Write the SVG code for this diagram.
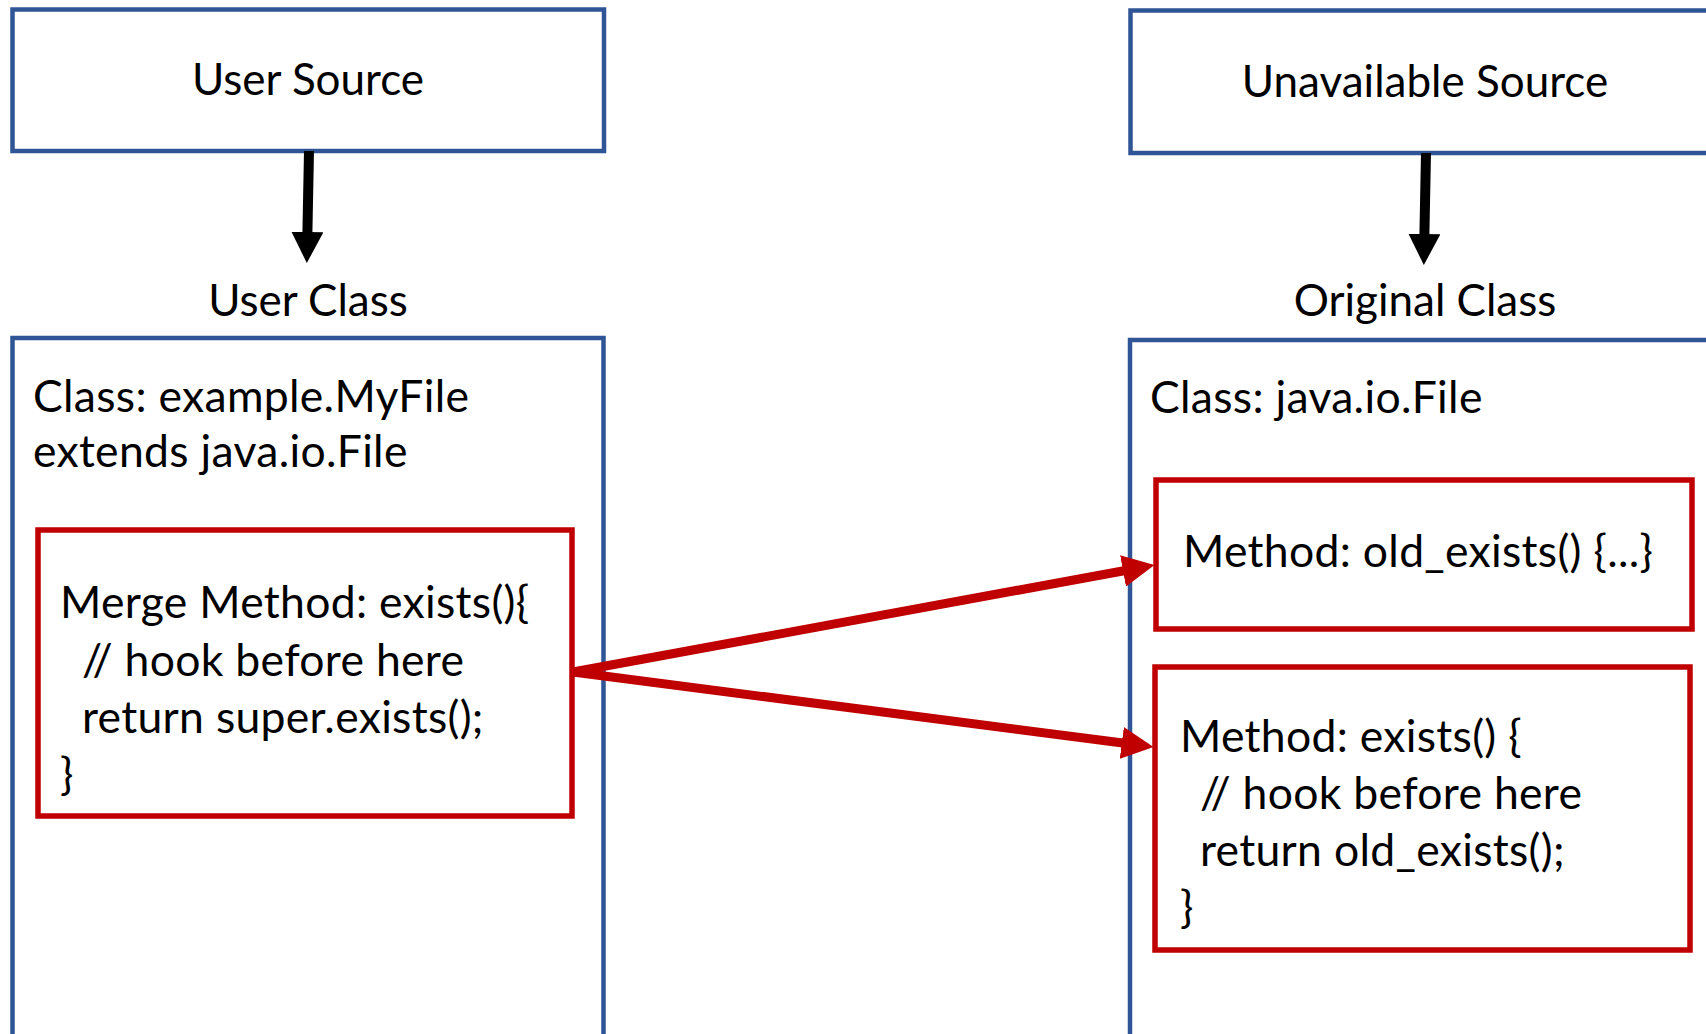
<svg xmlns="http://www.w3.org/2000/svg" width="1706" height="1034" viewBox="0 0 1706 1034">
  <style>
    .blue { fill: #ffffff; stroke: #2F5597; stroke-width: 4.5; }
    .red { fill: #ffffff; stroke: #C00000; stroke-width: 5.5; }
    text { font-family: "Lato", "Open Sans", "Liberation Sans", sans-serif; font-size: 44px; fill: #000000; }
    .body { font-size: 44.5px; letter-spacing: 0.3px; }
    .mid { text-anchor: middle; }
    .flow { fill: none; stroke: #000000; stroke-width: 10; }
    .link { fill: none; stroke: #C00000; stroke-width: 9; }
  </style>
  <defs>
    <marker id="headBlack" markerUnits="userSpaceOnUse" viewBox="0 0 31 32" refX="1" refY="16" markerWidth="31" markerHeight="32" orient="auto">
      <path d="M0,0 L31,16 L0,32 Z" fill="#000000"/>
    </marker>
    <marker id="headRed" markerUnits="userSpaceOnUse" viewBox="0 0 32 32" refX="1" refY="16" markerWidth="32" markerHeight="32" orient="auto">
      <path d="M0,0 L32,16 L0,32 Z" fill="#C00000"/>
    </marker>
  </defs>
  <rect width="1706" height="1034" fill="#ffffff"/>

  <!-- left column -->
  <g id="user-source">
    <rect class="blue" x="12.5" y="9.5" width="591.5" height="141.5"/>
    <text class="mid" x="308" y="95">User Source</text>
  </g>

  <g id="user-class">
    <text class="mid" x="308" y="316">User Class</text>
    <rect class="blue" x="12.5" y="338" width="591" height="720"/>
    <text class="body" x="33" y="412">Class: example.MyFile</text>
    <text class="body" x="33" y="467">extends java.io.File</text>
  </g>

  <g id="merge-method">
    <rect class="red" x="38" y="530" width="534" height="286"/>
    <text class="body" x="60" y="618">Merge Method: exists(){</text>
    <text class="body" x="82" y="676">// hook before here</text>
    <text class="body" x="82" y="733">return super.exists();</text>
    <text class="body" x="60" y="790">}</text>
  </g>

  <!-- right column -->
  <g id="unavailable-source">
    <rect class="blue" x="1130.5" y="10.5" width="600" height="142.5"/>
    <text class="mid" x="1425" y="97">Unavailable Source</text>
  </g>

  <g id="original-class">
    <text class="mid" x="1425" y="316">Original Class</text>
    <rect class="blue" x="1130" y="340" width="600" height="720"/>
    <text class="body" x="1150" y="413">Class: java.io.File</text>
  </g>

  <g id="old-exists">
    <rect class="red" x="1156" y="480" width="536" height="149"/>
    <text class="body" x="1183" y="567">Method: old_exists() {...}</text>
  </g>

  <g id="exists">
    <rect class="red" x="1155" y="667" width="535" height="283"/>
    <text class="body" x="1180" y="752">Method: exists() {</text>
    <text class="body" x="1200" y="809">// hook before here</text>
    <text class="body" x="1200" y="866">return old_exists();</text>
    <text class="body" x="1180" y="923">}</text>
  </g>

  <!-- connectors -->
  <g id="connectors">
    <path class="flow" d="M309,151 L307.4,233" marker-end="url(#headBlack)"/>
    <path class="flow" d="M1426,153 L1424.4,235" marker-end="url(#headBlack)"/>
    <path class="link" d="M573,672 L1124,570.7" marker-end="url(#headRed)"/>
    <path class="link" d="M573,672 L1122.8,743" marker-end="url(#headRed)"/>
  </g>
</svg>
